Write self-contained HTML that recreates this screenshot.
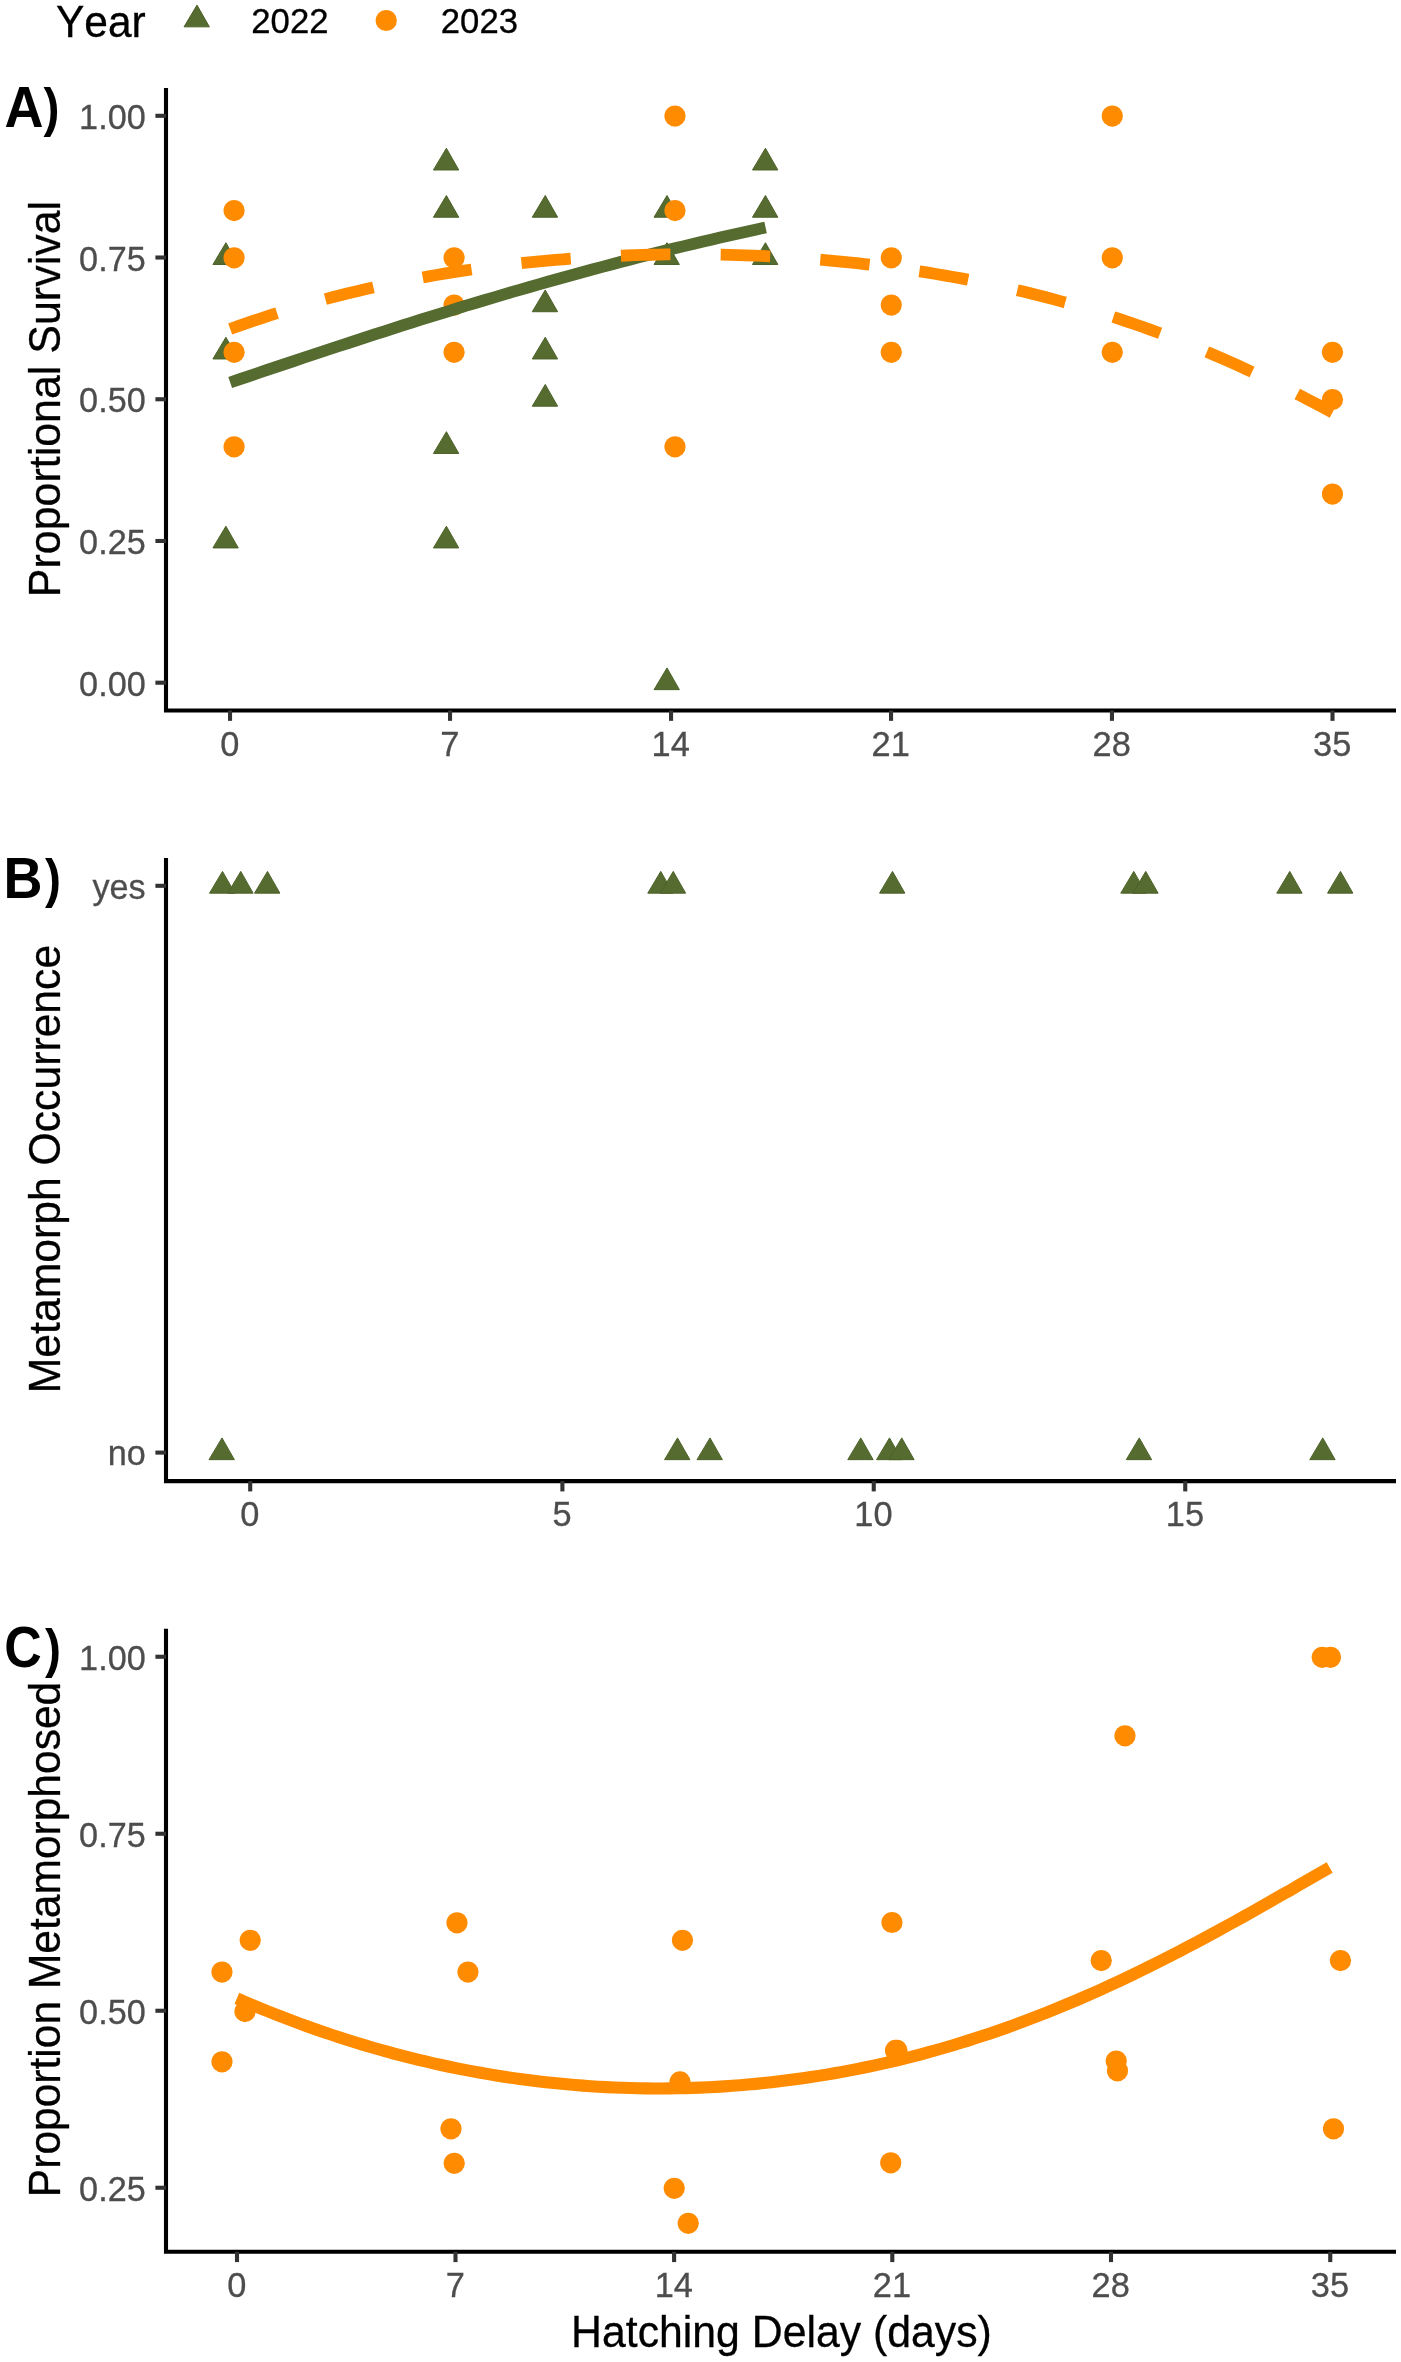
<!DOCTYPE html>
<html><head><meta charset="utf-8"><title>Figure</title>
<style>html,body{margin:0;padding:0;background:#fff;overflow:hidden}svg{display:block;will-change:transform}text{font-family:"Liberation Sans",sans-serif;font-kerning:none}</style>
</head><body>
<svg width="1401" height="2362" viewBox="0 0 1401 2362">
<text transform="translate(56.00 36.50) scale(1 1.06)" font-size="42.5" fill="#000" stroke="#000" stroke-width="0.3">Year</text>
<g fill="#556B2F" stroke="#4C6128" stroke-width="1" stroke-linejoin="miter"><path d="M197.00 5.10L209.38 26.85L184.02 26.85Z"/></g>
<g fill="#FF8C00"><circle cx="386.25" cy="20.50" r="10.6"/></g>
<text transform="translate(251.30 33.10) scale(1 1.02)" font-size="34.7" fill="#000" stroke="#000" stroke-width="0.3">2022</text>
<text transform="translate(440.80 33.10) scale(1 1.02)" font-size="34.7" fill="#000" stroke="#000" stroke-width="0.3">2023</text>
<path d="M166.0 88V710.55H1396.0" stroke="#000" stroke-width="4.1" fill="none"/>
<g stroke="#333333" stroke-width="4.1">
<path d="M155.40 682.70H166.0"/>
<path d="M155.40 540.98H166.0"/>
<path d="M155.40 399.25H166.0"/>
<path d="M155.40 257.52H166.0"/>
<path d="M155.40 115.80H166.0"/>
<path d="M230.03 710.55V720.85"/>
<path d="M450.03 710.55V720.85"/>
<path d="M671.05 710.55V720.85"/>
<path d="M891.05 710.55V720.85"/>
<path d="M1111.95 710.55V720.85"/>
<path d="M1332.50 710.55V720.85"/>
</g>
<text transform="translate(145.70 695.90) scale(0.995 1.04)" font-size="34.4" text-anchor="end" fill="#4D4D4D" stroke="#4D4D4D" stroke-width="0.3">0.00</text>
<text transform="translate(145.70 554.18) scale(0.995 1.04)" font-size="34.4" text-anchor="end" fill="#4D4D4D" stroke="#4D4D4D" stroke-width="0.3">0.25</text>
<text transform="translate(145.70 412.45) scale(0.995 1.04)" font-size="34.4" text-anchor="end" fill="#4D4D4D" stroke="#4D4D4D" stroke-width="0.3">0.50</text>
<text transform="translate(145.70 270.72) scale(0.995 1.04)" font-size="34.4" text-anchor="end" fill="#4D4D4D" stroke="#4D4D4D" stroke-width="0.3">0.75</text>
<text transform="translate(145.70 129.00) scale(0.995 1.04)" font-size="34.4" text-anchor="end" fill="#4D4D4D" stroke="#4D4D4D" stroke-width="0.3">1.00</text>
<text transform="translate(229.73 756.40) scale(1.0 1.035)" font-size="34.4" text-anchor="middle" fill="#4D4D4D" stroke="#4D4D4D" stroke-width="0.3">0</text>
<text transform="translate(449.73 756.40) scale(1.0 1.035)" font-size="34.4" text-anchor="middle" fill="#4D4D4D" stroke="#4D4D4D" stroke-width="0.3">7</text>
<text transform="translate(670.75 756.40) scale(1.0 1.035)" font-size="34.4" text-anchor="middle" fill="#4D4D4D" stroke="#4D4D4D" stroke-width="0.3">14</text>
<text transform="translate(890.75 756.40) scale(1.0 1.035)" font-size="34.4" text-anchor="middle" fill="#4D4D4D" stroke="#4D4D4D" stroke-width="0.3">21</text>
<text transform="translate(1111.65 756.40) scale(1.0 1.035)" font-size="34.4" text-anchor="middle" fill="#4D4D4D" stroke="#4D4D4D" stroke-width="0.3">28</text>
<text transform="translate(1332.20 756.40) scale(1.0 1.035)" font-size="34.4" text-anchor="middle" fill="#4D4D4D" stroke="#4D4D4D" stroke-width="0.3">35</text>
<text transform="translate(60.20 399.05) rotate(-90) scale(1 1.037)" font-size="42.95" text-anchor="middle" fill="#000" stroke="#000" stroke-width="0.3">Proportional Survival</text>
<text transform="translate(4.40 127.10) scale(1 1.055)" font-size="54" font-weight="bold" fill="#000">A</text>
<text transform="translate(43.40 126.20) scale(0.89 0.995)" font-size="54" font-weight="bold" fill="#000">)</text>
<g fill="#556B2F" stroke="#4C6128" stroke-width="1" stroke-linejoin="miter">
<path d="M225.90 242.72L238.28 264.47L212.92 264.47Z"/>
<path d="M225.90 337.21L238.28 358.96L212.92 358.96Z"/>
<path d="M225.90 526.18L238.28 547.93L212.92 547.93Z"/>
<path d="M446.40 148.24L458.78 169.99L433.42 169.99Z"/>
<path d="M446.40 195.48L458.78 217.23L433.42 217.23Z"/>
<path d="M446.40 431.69L458.78 453.44L433.42 453.44Z"/>
<path d="M446.40 526.18L458.78 547.93L433.42 547.93Z"/>
<path d="M545.25 195.48L557.63 217.23L532.27 217.23Z"/>
<path d="M545.25 289.97L557.63 311.72L532.27 311.72Z"/>
<path d="M545.25 337.21L557.63 358.96L532.27 358.96Z"/>
<path d="M545.25 384.45L557.63 406.20L532.27 406.20Z"/>
<path d="M667.00 195.48L679.38 217.23L654.02 217.23Z"/>
<path d="M667.00 242.72L679.38 264.47L654.02 264.47Z"/>
<path d="M667.00 667.90L679.38 689.65L654.02 689.65Z"/>
<path d="M765.45 148.24L777.83 169.99L752.47 169.99Z"/>
<path d="M765.45 195.48L777.83 217.23L752.47 217.23Z"/>
<path d="M765.45 242.72L777.83 264.47L752.47 264.47Z"/>
</g>
<g fill="#FF8C00">
<circle cx="234.10" cy="210.58" r="10.6"/>
<circle cx="234.10" cy="257.82" r="10.6"/>
<circle cx="234.10" cy="352.31" r="10.6"/>
<circle cx="234.10" cy="446.79" r="10.6"/>
<circle cx="454.10" cy="257.82" r="10.6"/>
<circle cx="454.10" cy="305.07" r="10.6"/>
<circle cx="454.10" cy="352.31" r="10.6"/>
<circle cx="675.00" cy="116.10" r="10.6"/>
<circle cx="675.00" cy="210.58" r="10.6"/>
<circle cx="675.00" cy="446.79" r="10.6"/>
<circle cx="891.30" cy="257.82" r="10.6"/>
<circle cx="891.30" cy="305.07" r="10.6"/>
<circle cx="891.30" cy="352.31" r="10.6"/>
<circle cx="1112.30" cy="116.10" r="10.6"/>
<circle cx="1112.30" cy="257.82" r="10.6"/>
<circle cx="1112.30" cy="352.31" r="10.6"/>
<circle cx="1332.50" cy="352.31" r="10.6"/>
<circle cx="1332.50" cy="399.55" r="10.6"/>
<circle cx="1332.50" cy="494.03" r="10.6"/>
</g>
<path d="M230.20 382.47L239.27 379.39L248.35 376.32L257.42 373.25L266.50 370.19L275.57 367.14L284.65 364.09L293.72 361.05L302.80 358.02L311.87 355.00L320.95 351.99L330.02 348.99L339.10 346.00L348.17 343.03L357.24 340.07L366.32 337.12L375.39 334.18L384.47 331.26L393.54 328.36L402.62 325.47L411.69 322.59L420.77 319.74L429.84 316.90L438.92 314.08L447.99 311.28L457.07 308.49L466.14 305.73L475.21 302.98L484.29 300.26L493.36 297.56L502.44 294.88L511.51 292.21L520.59 289.58L529.66 286.96L538.74 284.36L547.81 281.79L556.89 279.24L565.96 276.72L575.04 274.22L584.11 271.74L593.18 269.29L602.26 266.86L611.33 264.46L620.41 262.08L629.48 259.72L638.56 257.39L647.63 255.09L656.71 252.81L665.78 250.56L674.86 248.33L683.93 246.13L693.01 243.95L702.08 241.80L711.16 239.68L720.23 237.58L729.30 235.51L738.38 233.46L747.45 231.44L756.53 229.45L765.60 227.48" fill="none" stroke="#556B2F" stroke-width="11.8"/>
<path d="M230.20 328.97L238.13 326.14L246.06 323.37L253.99 320.67L261.92 318.03L269.85 315.46L277.78 312.95L285.71 310.50L293.64 308.11L301.57 305.79L309.50 303.52L317.43 301.32L325.36 299.17L333.29 297.08L341.22 295.06L349.15 293.09L357.08 291.17L365.01 289.31L372.94 287.51L380.87 285.76L388.80 284.07L396.73 282.43L404.66 280.84L412.59 279.31L420.53 277.83L428.46 276.39L436.39 275.01L444.32 273.68L452.25 272.40L460.18 271.16L468.11 269.97L476.04 268.83L483.97 267.74L491.90 266.69L499.83 265.69L507.76 264.74L515.69 263.82L523.62 262.96L531.55 262.13L539.48 261.35L547.41 260.61L555.34 259.92L563.27 259.26L571.20 258.65L579.13 258.08L587.06 257.55L594.99 257.06L602.92 256.61L610.85 256.21L618.78 255.84L626.71 255.51L634.64 255.22L642.57 254.97L650.50 254.76L658.43 254.59L666.36 254.46L674.29 254.37L682.22 254.31L690.15 254.30L698.08 254.32L706.01 254.38L713.94 254.49L721.87 254.63L729.80 254.81L737.73 255.03L745.66 255.28L753.59 255.58L761.52 255.92L769.45 256.30L777.38 256.72L785.32 257.17L793.25 257.67L801.18 258.21L809.11 258.79L817.04 259.41L824.97 260.08L832.90 260.78L840.83 261.53L848.76 262.32L856.69 263.15L864.62 264.03L872.55 264.95L880.48 265.92L888.41 266.93L896.34 267.99L904.27 269.09L912.20 270.25L920.13 271.44L928.06 272.69L935.99 273.98L943.92 275.33L951.85 276.72L959.78 278.17L967.71 279.66L975.64 281.21L983.57 282.81L991.50 284.46L999.43 286.16L1007.36 287.92L1015.29 289.74L1023.22 291.61L1031.15 293.54L1039.08 295.52L1047.01 297.56L1054.94 299.66L1062.87 301.82L1070.80 304.04L1078.73 306.32L1086.66 308.66L1094.59 311.06L1102.52 313.53L1110.45 316.05L1118.38 318.64L1126.31 321.29L1134.24 324.01L1142.17 326.79L1150.11 329.63L1158.04 332.54L1165.97 335.52L1173.90 338.56L1181.83 341.66L1189.76 344.83L1197.69 348.07L1205.62 351.37L1213.55 354.73L1221.48 358.16L1229.41 361.65L1237.34 365.21L1245.27 368.83L1253.20 372.51L1261.13 376.26L1269.06 380.06L1276.99 383.93L1284.92 387.85L1292.85 391.83L1300.78 395.86L1308.71 399.95L1316.64 404.09L1324.57 408.28L1332.50 412.53" fill="none" stroke="#FF8C00" stroke-width="11.8" stroke-dasharray="49.5 50.27"/>
<path d="M166.0 858V1481.1H1396.0" stroke="#000" stroke-width="4.1" fill="none"/>
<g stroke="#333333" stroke-width="4.1">
<path d="M155.40 885.80H166.0"/>
<path d="M155.40 1452.60H166.0"/>
<path d="M250.20 1481.1V1491.40"/>
<path d="M562.40 1481.1V1491.40"/>
<path d="M873.75 1481.1V1491.40"/>
<path d="M1185.25 1481.1V1491.40"/>
</g>
<text transform="translate(145.70 899.00) scale(0.995 1.04)" font-size="34.4" text-anchor="end" fill="#4D4D4D" stroke="#4D4D4D" stroke-width="0.3">yes</text>
<text transform="translate(145.70 1465.00) scale(0.995 1.04)" font-size="34.4" text-anchor="end" fill="#4D4D4D" stroke="#4D4D4D" stroke-width="0.3">no</text>
<text transform="translate(249.90 1525.70) scale(1.0 1.035)" font-size="34.4" text-anchor="middle" fill="#4D4D4D" stroke="#4D4D4D" stroke-width="0.3">0</text>
<text transform="translate(562.10 1525.70) scale(1.0 1.035)" font-size="34.4" text-anchor="middle" fill="#4D4D4D" stroke="#4D4D4D" stroke-width="0.3">5</text>
<text transform="translate(873.45 1525.70) scale(1.0 1.035)" font-size="34.4" text-anchor="middle" fill="#4D4D4D" stroke="#4D4D4D" stroke-width="0.3">10</text>
<text transform="translate(1184.95 1525.70) scale(1.0 1.035)" font-size="34.4" text-anchor="middle" fill="#4D4D4D" stroke="#4D4D4D" stroke-width="0.3">15</text>
<text transform="translate(60.20 1169.00) rotate(-90) scale(1 1.037)" font-size="42.7" text-anchor="middle" fill="#000" stroke="#000" stroke-width="0.3">Metamorph Occurrence</text>
<text transform="translate(3.40 897.80) scale(1 1.066)" font-size="54" font-weight="bold" fill="#000">B</text>
<text transform="translate(45.00 897.10) scale(0.89 0.995)" font-size="54" font-weight="bold" fill="#000">)</text>
<g fill="#556B2F" stroke="#4C6128" stroke-width="1" stroke-linejoin="miter">
<path d="M222.50 871.40L234.88 893.15L209.52 893.15Z"/>
<path d="M240.75 871.40L253.13 893.15L227.77 893.15Z"/>
<path d="M267.50 871.40L279.88 893.15L254.52 893.15Z"/>
<path d="M660.75 871.40L673.13 893.15L647.77 893.15Z"/>
<path d="M673.25 871.40L685.63 893.15L660.27 893.15Z"/>
<path d="M892.50 871.40L904.88 893.15L879.52 893.15Z"/>
<path d="M1133.75 871.40L1146.13 893.15L1120.77 893.15Z"/>
<path d="M1145.75 871.40L1158.13 893.15L1132.77 893.15Z"/>
<path d="M1289.75 871.40L1302.13 893.15L1276.77 893.15Z"/>
<path d="M1340.50 871.40L1352.88 893.15L1327.52 893.15Z"/>
<path d="M222.00 1437.90L234.38 1459.65L209.02 1459.65Z"/>
<path d="M677.50 1437.90L689.88 1459.65L664.52 1459.65Z"/>
<path d="M710.00 1437.90L722.38 1459.65L697.02 1459.65Z"/>
<path d="M860.75 1437.90L873.13 1459.65L847.77 1459.65Z"/>
<path d="M889.50 1437.90L901.88 1459.65L876.52 1459.65Z"/>
<path d="M901.75 1437.90L914.13 1459.65L888.77 1459.65Z"/>
<path d="M1139.25 1437.90L1151.63 1459.65L1126.27 1459.65Z"/>
<path d="M1322.75 1437.90L1335.13 1459.65L1309.77 1459.65Z"/>
</g>
<path d="M166.0 1628.8V2251.8H1396.0" stroke="#000" stroke-width="4.1" fill="none"/>
<g stroke="#333333" stroke-width="4.1">
<path d="M155.40 2187.75H166.0"/>
<path d="M155.40 2010.75H166.0"/>
<path d="M155.40 1833.75H166.0"/>
<path d="M155.40 1656.75H166.0"/>
<path d="M237.00 2251.8V2262.10"/>
<path d="M455.50 2251.8V2262.10"/>
<path d="M674.10 2251.8V2262.10"/>
<path d="M892.30 2251.8V2262.10"/>
<path d="M1111.00 2251.8V2262.10"/>
<path d="M1330.25 2251.8V2262.10"/>
</g>
<text transform="translate(145.70 2200.95) scale(0.995 1.04)" font-size="34.4" text-anchor="end" fill="#4D4D4D" stroke="#4D4D4D" stroke-width="0.3">0.25</text>
<text transform="translate(145.70 2023.95) scale(0.995 1.04)" font-size="34.4" text-anchor="end" fill="#4D4D4D" stroke="#4D4D4D" stroke-width="0.3">0.50</text>
<text transform="translate(145.70 1846.95) scale(0.995 1.04)" font-size="34.4" text-anchor="end" fill="#4D4D4D" stroke="#4D4D4D" stroke-width="0.3">0.75</text>
<text transform="translate(145.70 1669.95) scale(0.995 1.04)" font-size="34.4" text-anchor="end" fill="#4D4D4D" stroke="#4D4D4D" stroke-width="0.3">1.00</text>
<text transform="translate(236.70 2297.00) scale(1.0 1.035)" font-size="34.4" text-anchor="middle" fill="#4D4D4D" stroke="#4D4D4D" stroke-width="0.3">0</text>
<text transform="translate(455.20 2297.00) scale(1.0 1.035)" font-size="34.4" text-anchor="middle" fill="#4D4D4D" stroke="#4D4D4D" stroke-width="0.3">7</text>
<text transform="translate(673.80 2297.00) scale(1.0 1.035)" font-size="34.4" text-anchor="middle" fill="#4D4D4D" stroke="#4D4D4D" stroke-width="0.3">14</text>
<text transform="translate(892.00 2297.00) scale(1.0 1.035)" font-size="34.4" text-anchor="middle" fill="#4D4D4D" stroke="#4D4D4D" stroke-width="0.3">21</text>
<text transform="translate(1110.70 2297.00) scale(1.0 1.035)" font-size="34.4" text-anchor="middle" fill="#4D4D4D" stroke="#4D4D4D" stroke-width="0.3">28</text>
<text transform="translate(1329.95 2297.00) scale(1.0 1.035)" font-size="34.4" text-anchor="middle" fill="#4D4D4D" stroke="#4D4D4D" stroke-width="0.3">35</text>
<text transform="translate(60.20 1939.45) rotate(-90) scale(1 1.037)" font-size="42.54" text-anchor="middle" fill="#000" stroke="#000" stroke-width="0.3">Proportion Metamorphosed</text>
<text transform="translate(4.30 1667.20) scale(0.96 1.064)" font-size="54" font-weight="bold" fill="#000">C</text>
<text transform="translate(45.00 1667.00) scale(0.89 0.995)" font-size="54" font-weight="bold" fill="#000">)</text>
<text transform="translate(781.45 2346.80) scale(1 1.04)" font-size="42.78" text-anchor="middle" fill="#000" stroke="#000" stroke-width="0.3">Hatching Delay (days)</text>
<g fill="#FF8C00">
<circle cx="222.00" cy="1972.05" r="10.6"/>
<circle cx="250.25" cy="1940.30" r="10.6"/>
<circle cx="245.00" cy="2011.55" r="10.6"/>
<circle cx="222.00" cy="2061.80" r="10.6"/>
<circle cx="457.00" cy="1922.80" r="10.6"/>
<circle cx="468.00" cy="1972.05" r="10.6"/>
<circle cx="451.00" cy="2128.80" r="10.6"/>
<circle cx="454.25" cy="2163.30" r="10.6"/>
<circle cx="682.50" cy="1940.30" r="10.6"/>
<circle cx="680.00" cy="2081.90" r="10.6"/>
<circle cx="674.25" cy="2188.30" r="10.6"/>
<circle cx="688.25" cy="2223.30" r="10.6"/>
<circle cx="892.00" cy="1922.50" r="10.6"/>
<circle cx="895.50" cy="2050.40" r="10.6"/>
<circle cx="897.00" cy="2050.40" r="10.6"/>
<circle cx="890.75" cy="2162.80" r="10.6"/>
<circle cx="1101.25" cy="1960.60" r="10.6"/>
<circle cx="1116.25" cy="2061.10" r="10.6"/>
<circle cx="1117.50" cy="2070.80" r="10.6"/>
<circle cx="1125.00" cy="1735.80" r="10.6"/>
<circle cx="1322.25" cy="1657.30" r="10.6"/>
<circle cx="1330.50" cy="1657.30" r="10.6"/>
<circle cx="1340.50" cy="1960.60" r="10.6"/>
<circle cx="1333.50" cy="2128.80" r="10.6"/>
</g>
<path d="M236.85 1998.40L244.71 2001.77L252.57 2005.07L260.44 2008.32L268.30 2011.50L276.16 2014.62L284.02 2017.67L291.88 2020.66L299.75 2023.59L307.61 2026.45L315.47 2029.25L323.33 2031.98L331.19 2034.64L339.05 2037.24L346.92 2039.77L354.78 2042.24L362.64 2044.64L370.50 2046.97L378.36 2049.24L386.23 2051.44L394.09 2053.58L401.95 2055.65L409.81 2057.66L417.67 2059.60L425.54 2061.48L433.40 2063.29L441.26 2065.03L449.12 2066.72L456.98 2068.33L464.85 2069.89L472.71 2071.37L480.57 2072.80L488.43 2074.16L496.29 2075.46L504.15 2076.70L512.02 2077.87L519.88 2078.98L527.74 2080.03L535.60 2081.02L543.46 2081.94L551.33 2082.80L559.19 2083.60L567.05 2084.34L574.91 2085.02L582.77 2085.63L590.64 2086.19L598.50 2086.68L606.36 2087.12L614.22 2087.49L622.08 2087.80L629.95 2088.06L637.81 2088.25L645.67 2088.38L653.53 2088.45L661.39 2088.46L669.25 2088.41L677.12 2088.30L684.98 2088.13L692.84 2087.90L700.70 2087.61L708.56 2087.25L716.43 2086.84L724.29 2086.37L732.15 2085.83L740.01 2085.24L747.87 2084.58L755.74 2083.86L763.60 2083.08L771.46 2082.24L779.32 2081.34L787.18 2080.37L795.05 2079.35L802.91 2078.26L810.77 2077.11L818.63 2075.89L826.49 2074.62L834.35 2073.27L842.22 2071.87L850.08 2070.40L857.94 2068.87L865.80 2067.28L873.66 2065.62L881.53 2063.89L889.39 2062.10L897.25 2060.25L905.11 2058.33L912.97 2056.35L920.84 2054.30L928.70 2052.18L936.56 2050.00L944.42 2047.76L952.28 2045.45L960.15 2043.07L968.01 2040.62L975.87 2038.11L983.73 2035.54L991.59 2032.90L999.45 2030.19L1007.32 2027.42L1015.18 2024.58L1023.04 2021.68L1030.90 2018.71L1038.76 2015.67L1046.63 2012.58L1054.49 2009.42L1062.35 2006.19L1070.21 2002.91L1078.07 1999.56L1085.94 1996.15L1093.80 1992.68L1101.66 1989.15L1109.52 1985.56L1117.38 1981.91L1125.25 1978.21L1133.11 1974.45L1140.97 1970.64L1148.83 1966.77L1156.69 1962.85L1164.55 1958.88L1172.42 1954.87L1180.28 1950.80L1188.14 1946.70L1196.00 1942.54L1203.86 1938.35L1211.73 1934.12L1219.59 1929.85L1227.45 1925.54L1235.31 1921.20L1243.17 1916.84L1251.04 1912.44L1258.90 1908.02L1266.76 1903.57L1274.62 1899.11L1282.48 1894.62L1290.35 1890.13L1298.21 1885.62L1306.07 1881.10L1313.93 1876.58L1321.79 1872.05L1329.65 1867.52" fill="none" stroke="#FF8C00" stroke-width="12.100000000000001"/>
</svg>
</body></html>
